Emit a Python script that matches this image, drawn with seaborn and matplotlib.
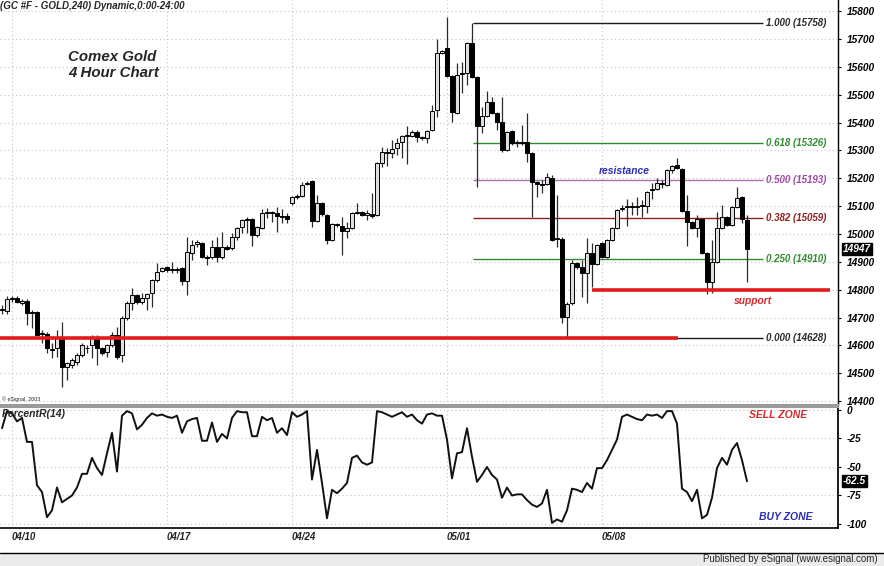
import numpy as np
import pandas as pd
import seaborn as sns
import matplotlib
matplotlib.use("Agg")
import matplotlib.pyplot as plt
import matplotlib.transforms as mtransforms
from matplotlib.patches import Rectangle

# 4-hour candles, Comex gold (price x10)
opens = [14727, 14723, 14766, 14770, 14752, 14759, 14716, 14719, 14640, 14640,
         14587, 14590, 14630, 14522, 14529, 14540, 14565, 14592, 14601, 14630,
         14590, 14576, 14601, 14637, 14565, 14698, 14752, 14780, 14755, 14770,
         14788, 14834, 14867, 14881, 14872, 14874, 14877, 14831, 14931, 14964,
         14967, 14917, 14917, 14953, 14917, 14953, 14949, 14989, 15025, 15050,
         15053, 14996, 15021, 15075, 15078, 15075, 15064, 15064, 15111, 15132,
         15136, 15179, 15190, 15046, 15111, 15068, 14978, 15035, 15028, 15010,
         15021, 15075, 15078, 15068, 15071, 15068, 15254, 15290, 15290, 15308,
         15330, 15351, 15351, 15366, 15348, 15344, 15373, 15445, 15649, 15667,
         15567, 15434, 15573, 15577, 15685, 15563, 15387, 15423, 15473, 15434,
         15402, 15301, 15369, 15326, 15330, 15330, 15290, 15186, 15175, 15179,
         15200, 14982, 14982, 14701, 14752, 14895, 14881, 14859, 14931, 14892,
         14967, 14917, 14978, 15021, 15089, 15096, 15100, 15098, 15100, 15100,
         15158, 15161, 15183, 15175, 15229, 15247, 15233, 15082, 15043, 15021,
         15053, 14931, 14827, 14899, 15021, 15060, 15032, 15096, 15132, 15050]
highs = [14745, 14777, 14777, 14777, 14766, 14766, 14727, 14723, 14655, 14648,
         14608, 14655, 14684, 14540, 14554, 14572, 14608, 14601, 14637, 14637,
         14594, 14605, 14648, 14666, 14705, 14759, 14806, 14784, 14788, 14788,
         14838, 14895, 14881, 14884, 14899, 14881, 14881, 14989, 14978, 14978,
         14971, 14924, 14978, 14989, 15007, 14960, 15003, 15025, 15053, 15060,
         15057, 15028, 15089, 15093, 15082, 15096, 15089, 15075, 15136, 15143,
         15186, 15190, 15193, 15140, 15114, 15071, 15039, 15039, 15060, 15043,
         15078, 15111, 15082, 15086, 15147, 15258, 15312, 15308, 15337, 15344,
         15355, 15387, 15373, 15373, 15351, 15373, 15463, 15700, 15660, 15778,
         15570, 15613, 15617, 15690, 15757, 15567, 15455, 15513, 15491, 15438,
         15491, 15369, 15373, 15337, 15391, 15434, 15294, 15190, 15193, 15218,
         15211, 15140, 14989, 14755, 14906, 14899, 14906, 14985, 14967, 14964,
         14971, 14982, 15025, 15089, 15104, 15125, 15114, 15132, 15122, 15154,
         15183, 15200, 15193, 15233, 15247, 15272, 15236, 15140, 15046, 15068,
         15057, 14935, 14978, 15078, 15104, 15064, 15100, 15168, 15136, 15068]
lows = [14712, 14712, 14755, 14752, 14745, 14673, 14662, 14633, 14608, 14572,
        14554, 14558, 14450, 14475, 14518, 14529, 14558, 14572, 14554, 14529,
        14565, 14558, 14594, 14550, 14540, 14690, 14727, 14748, 14748, 14727,
        14737, 14827, 14863, 14863, 14859, 14859, 14816, 14780, 14906, 14953,
        14913, 14888, 14910, 14899, 14910, 14942, 14942, 14978, 15003, 15003,
        14956, 14989, 15017, 15057, 15043, 15007, 15039, 15039, 15104, 15125,
        15132, 15175, 15025, 15043, 15064, 14964, 14975, 15025, 14924, 14985,
        15017, 15071, 15064, 15050, 15057, 15064, 15240, 15244, 15272, 15283,
        15272, 15251, 15348, 15330, 15337, 15326, 15369, 15419, 15645, 15563,
        15402, 15430, 15506, 15534, 15560, 15168, 15362, 15419, 15430, 15373,
        15294, 15297, 15319, 15312, 15319, 15258, 15060, 15132, 15147, 15175,
        14975, 14953, 14680, 14630, 14745, 14874, 14773, 14752, 14809, 14888,
        14913, 14913, 14975, 15017, 15082, 15028, 15068, 15068, 15060, 15075,
        15125, 15158, 15165, 15172, 15218, 15233, 15078, 14956, 15017, 14989,
        14928, 14784, 14788, 14895, 15017, 15028, 15028, 15093, 15039, 14827]
closes = [14730, 14766, 14770, 14755, 14759, 14716, 14719, 14637, 14644, 14590,
          14583, 14626, 14522, 14536, 14547, 14565, 14601, 14590, 14630, 14590,
          14572, 14601, 14637, 14558, 14698, 14752, 14780, 14755, 14770, 14784,
          14834, 14863, 14877, 14870, 14874, 14872, 14831, 14935, 14960, 14971,
          14917, 14913, 14953, 14917, 14953, 14946, 14989, 15021, 15050, 15053,
          14996, 15025, 15075, 15078, 15075, 15064, 15060, 15053, 15132, 15136,
          15175, 15183, 15046, 15111, 15071, 14978, 15035, 15032, 15010, 15021,
          15075, 15078, 15068, 15075, 15064, 15254, 15294, 15294, 15305, 15326,
          15351, 15355, 15366, 15348, 15344, 15369, 15441, 15649, 15656, 15567,
          15438, 15570, 15577, 15685, 15563, 15387, 15423, 15473, 15434, 15402,
          15301, 15366, 15326, 15330, 15326, 15290, 15186, 15179, 15179, 15204,
          14978, 14985, 14701, 14748, 14895, 14881, 14859, 14931, 14892, 14960,
          14917, 14978, 15021, 15086, 15093, 15100, 15098, 15100, 15104, 15150,
          15161, 15183, 15179, 15229, 15244, 15236, 15082, 15043, 15021, 15053,
          14931, 14827, 14899, 15021, 15060, 15032, 15096, 15129, 15053, 14947]

# Williams %R(14)
pct_r = [-16, -1, -3, -10, -7, -28, -28, -66, -72, -94,
         -88, -68, -81, -78, -75, -68, -56, -56, -42, -51,
         -57, -38, -20, -54, -5, -1, -3, -17, -13, -7,
         -3, -5, -4, -6, -7, -5, -20, -10, -8, -7,
         -27, -27, -11, -28, -21, -25, -7, -1, -2, -2,
         -23, -23, -6, -9, -7, -20, -16, -22, -2, -6,
         -4, -1, -61, -35, -64, -95, -70, -73, -69, -64,
         -42, -40, -46, -48, -46, -1, -2, -4, -6, -4,
         -2, -6, -4, -9, -12, -4, -3, -5, -5, -26,
         -60, -38, -37, -16, -41, -63, -57, -50, -57, -61,
         -77, -68, -75, -74, -74, -79, -83, -85, -82, -70,
         -99, -96, -98, -88, -69, -70, -72, -64, -69, -51,
         -51, -44, -35, -26, -6, -4, -6, -8, -9, -4,
         -5, -4, -7, -1, -1, -12, -69, -72, -80, -70,
         -95, -92, -77, -51, -42, -48, -35, -29, -44, -62.5]

week_labels = ["04/10", "04/17", "04/24", "05/01", "05/08"]
week_start_bar = [2, 33, 58, 89, 120]

fib_ratios = ["1.000", "0.618", "0.500", "0.382", "0.250", "0.000"]
fib_prices = [15758, 15326, 15193, 15059, 14910, 14628]
fib_colors = ["#1a1a1a", "#2f8a2f", "#b070b8", "#8e1f1f", "#2f8a2f", "#1a1a1a"]
fib_text_colors = ["#2a2a2a", "#2f8a2f", "#a048a8", "#8e1f1f", "#2f8a2f", "#2a2a2a"]
fib_start_bar, fib_end_bar = 94.2, 152.2

low_line_price = 14628
support_price = 14800
last_price = 14947
last_pct_r = -62.5

df = pd.DataFrame({"open": opens, "high": highs, "low": lows, "close": closes})
df["bar"] = np.arange(len(df))
up = df["close"] >= df["open"]

sns.set_theme(style="white")
plt.rcParams["font.family"] = ["Liberation Sans", "DejaVu Sans"]
plt.rcParams["axes.unicode_minus"] = False

fig = plt.figure(figsize=(8.84, 5.66), dpi=100)
W, H = 884, 566
ax = fig.add_axes([0, (H - 405) / H, 838 / W, 405 / H])
ax2 = fig.add_axes([0, (H - 528) / H, 838 / W, 121 / H], sharex=ax)

bi = dict(fontweight="bold", fontstyle="italic")

# --- candles
ax.vlines(df["bar"], df["low"], df["high"], color="#2a2a2a", lw=0.9, zorder=3)
ax.bar(df["bar"][up], (df["close"] - df["open"])[up], bottom=df["open"][up],
       width=0.75, color="#dedede", edgecolor="black", lw=0.7, zorder=4)
ax.bar(df["bar"][~up], (df["open"] - df["close"])[~up], bottom=df["close"][~up],
       width=0.75, color="black", edgecolor="black", lw=0.7, zorder=4)

# --- fibonacci levels
for r, p, c, tc in zip(fib_ratios, fib_prices, fib_colors, fib_text_colors):
    ax.hlines(p, fib_start_bar, fib_end_bar, color=c, lw=1.0, zorder=2)
    ax.text(fib_end_bar + 0.5, p, f"{r} ({p})", color=tc, fontsize=7,
            ha="left", va="center", **bi)

ax.hlines(low_line_price, -0.4, 135.2, color="#e01b1b", lw=2.6, zorder=5)
ax.hlines(support_price, 118, 165.6, color="#e01b1b", lw=2.6, zorder=5)
ax.text(124.4, 15226, "resistance", color="#2b2bb5", fontsize=7.4, ha="center", va="center", **bi)
ax.text(150.2, 14760, "support", color="#d42a2a", fontsize=7.4, ha="center", va="center", **bi)
ax.text(13.2, 15635, "Comex Gold", fontsize=10.8, ha="left", va="center", **bi)
ax.text(13.2, 15577, "4 Hour Chart", fontsize=10.8, ha="left", va="center", **bi)
ax.text(0.0, 0.997, "(GC #F - GOLD,240) Dynamic,0:00-24:00", transform=ax.transAxes,
        fontsize=7, ha="left", va="top", **bi)
ax.text(0.002, 0.008, "\u00a9 eSignal, 2003", transform=ax.transAxes, fontsize=3.8,
        ha="left", va="bottom")

ax.set_xlim(-0.4, 167.2)
ax.set_ylim(14386, 15840)
ax.set_yticks(np.arange(14400, 15801, 100))
ax.yaxis.tick_right()
ax.tick_params(axis="y", which="both", right=True, length=2, width=0.8, pad=4,
               labelsize=7.3, colors="black")
for t in ax.get_yticklabels():
    t.set_fontweight("bold")
    t.set_fontstyle("italic")
ax.set_xticks(week_start_bar)
ax.tick_params(axis="x", bottom=False, labelbottom=False)
ax.grid(True, axis="both", color="#c4c4c4", lw=0.8, linestyle=(0, (1, 2.5)))
for s in ["left", "top"]:
    ax.spines[s].set_visible(False)
ax.spines["right"].set_color("black")
ax.spines["right"].set_linewidth(1.0)
ax.spines["bottom"].set_color("#9a9a9a")
ax.spines["bottom"].set_linewidth(1.5)

blend = mtransforms.blended_transform_factory(ax.transAxes, ax.transData)
ax.text(1.006, last_price, f"{last_price}", transform=blend, color="white",
        fontsize=7.3, ha="left", va="center",
        bbox=dict(boxstyle="square,pad=0.12", fc="black", ec="black"), **bi)

# --- Percent R panel
sns.lineplot(x=df["bar"], y=pct_r, ax=ax2, color="#111111", lw=1.4)
ax2.set_ylim(-103.5, 2.6)
ax2.set_yticks([0, -25, -50, -75, -100])
ax2.yaxis.tick_right()
ax2.tick_params(axis="y", right=True, length=2, width=0.8, pad=4, labelsize=7.3, colors="black")
for t in ax2.get_yticklabels():
    t.set_fontweight("bold")
    t.set_fontstyle("italic")
ax2.set_xticks(week_start_bar)
ax2.set_xticklabels(week_labels)
ax2.tick_params(axis="x", bottom=False, length=0, labelsize=7, pad=3, colors="#222222")
for t in ax2.get_xticklabels():
    t.set_fontweight("bold")
    t.set_fontstyle("italic")
    t.set_ha("left")
ax2.set_xlabel("")
ax2.set_ylabel("")
ax2.grid(True, axis="both", color="#c4c4c4", lw=0.8, linestyle=(0, (1, 2.5)))
ax2.spines["left"].set_visible(False)
ax2.spines["top"].set_color("#9a9a9a")
ax2.spines["top"].set_linewidth(1.5)
ax2.spines["bottom"].set_color("black")
ax2.spines["bottom"].set_linewidth(1.2)
ax2.spines["right"].set_color("black")

ax2.text(0.002, 0.985, "PercentR(14)", transform=ax2.transAxes, fontsize=7.5,
         ha="left", va="top", **bi)
ax2.text(155.2, -4.4, "SELL ZONE", color="#d42a2a", fontsize=7.5, ha="center", va="center", **bi)
ax2.text(156.8, -93.6, "BUY ZONE", color="#2b2bb5", fontsize=7.5, ha="center", va="center", **bi)
blend2 = mtransforms.blended_transform_factory(ax2.transAxes, ax2.transData)
ax2.text(1.006, last_pct_r, "-62.5", transform=blend2, color="white", fontsize=7.3,
         ha="left", va="center",
         bbox=dict(boxstyle="square,pad=0.12", fc="black", ec="black"), **bi)

# --- footer band
fig.patches.append(Rectangle((0, 0), 1, 13 / H, transform=fig.transFigure,
                             fc="#ebebeb", ec="none", zorder=0))
fig.lines.append(plt.Line2D([0, 1], [13 / H, 13 / H], transform=fig.transFigure,
                            color="black", lw=1.0))
fig.text(878 / W, 6.5 / H, "Published by eSignal (www.esignal.com)", fontsize=7,
         ha="right", va="center")

fig.savefig("out.png", dpi=100)
